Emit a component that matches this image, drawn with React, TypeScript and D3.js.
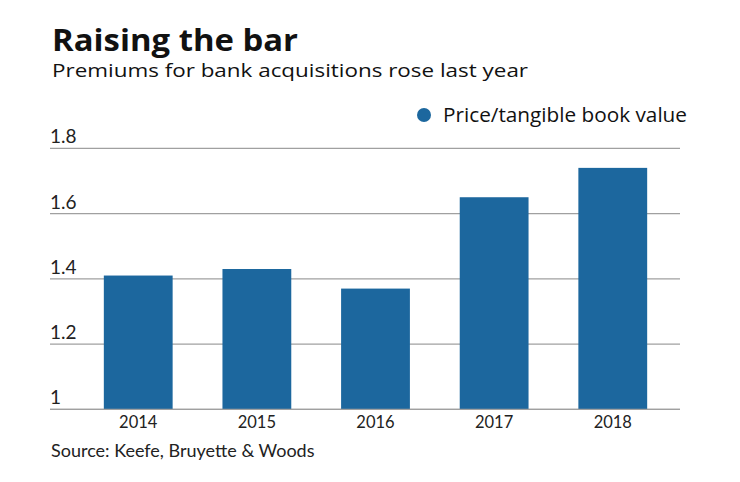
import React, { useEffect, useRef } from "react";
import * as d3 from "d3";

const years = ["2014", "2015", "2016", "2017", "2018"];
const priceToTangibleBook = [1.41, 1.43, 1.37, 1.65, 1.74];
const yTicks = [1, 1.2, 1.4, 1.6, 1.8];

const width = 740;
const height = 482;
const barColor = "#1c679e";
const gridColor = "#a0a0a0";
const headFont = "'Open Sans', sans-serif";
const font = "Lato, 'Open Sans', sans-serif";

const App = () => {
  const svgRef = useRef<SVGSVGElement>(null);

  useEffect(() => {
    const svg = d3.select(svgRef.current);
    svg.selectAll("*").remove();

    const x = d3.scaleBand().domain(years).range([54, 697]).padding(0.42);
    const y = d3.scaleLinear().domain([1, 1.8]).range([409.3, 148.3]);

    // Title block (the house face is wide, so stretch to its width)
    svg
      .append("text")
      .attr("x", 52)
      .attr("y", 51)
      .attr("font-family", headFont)
      .attr("font-weight", 700)
      .attr("font-size", 31)
      .attr("textLength", 246)
      .attr("lengthAdjust", "spacingAndGlyphs")
      .attr("fill", "#111")
      .text("Raising the bar");

    svg
      .append("text")
      .attr("x", 52)
      .attr("y", 76.5)
      .attr("font-family", headFont)
      .attr("font-size", 19)
      .attr("textLength", 476)
      .attr("lengthAdjust", "spacingAndGlyphs")
      .attr("fill", "#111")
      .text("Premiums for bank acquisitions rose last year");

    // Legend
    svg.append("circle").attr("cx", 424).attr("cy", 115).attr("r", 7).attr("fill", barColor);
    svg
      .append("text")
      .attr("x", 443)
      .attr("y", 122)
      .attr("font-family", headFont)
      .attr("font-size", 19.5)
      .attr("textLength", 244)
      .attr("lengthAdjust", "spacingAndGlyphs")
      .attr("fill", "#111")
      .text("Price/tangible book value");

    // Gridlines with labels sitting above them
    const grid = svg.append("g");
    grid
      .selectAll("line")
      .data(yTicks)
      .enter()
      .append("line")
      .attr("x1", 50)
      .attr("x2", 680)
      .attr("y1", (d) => y(d))
      .attr("y2", (d) => y(d))
      .attr("stroke", gridColor)
      .attr("stroke-width", 1.3);

    grid
      .selectAll("text")
      .data(yTicks)
      .enter()
      .append("text")
      .attr("x", 50)
      .attr("y", (d) => y(d) - 5)
      .attr("font-family", font)
      .attr("font-size", 19)
      .attr("fill", "#222")
      .text((d) => (d === 1 ? "1" : d3.format(".1f")(d)));

    // Bars
    svg
      .append("g")
      .selectAll("rect")
      .data(priceToTangibleBook)
      .enter()
      .append("rect")
      .attr("x", (d, i) => x(years[i])!)
      .attr("y", (d) => y(d))
      .attr("width", x.bandwidth())
      .attr("height", (d) => y(1) - y(d))
      .attr("fill", barColor);

    // Baseline drawn over the bars
    svg
      .append("line")
      .attr("x1", 50)
      .attr("x2", 680)
      .attr("y1", y(1))
      .attr("y2", y(1))
      .attr("stroke", gridColor)
      .attr("stroke-width", 1.3);

    // Year labels
    svg
      .append("g")
      .selectAll("text")
      .data(years)
      .enter()
      .append("text")
      .attr("x", (d) => x(d)! + x.bandwidth() / 2)
      .attr("y", 428)
      .attr("text-anchor", "middle")
      .attr("font-family", font)
      .attr("font-size", 16.5)
      .attr("fill", "#222")
      .text((d) => d);

    svg
      .append("text")
      .attr("x", 51)
      .attr("y", 456.5)
      .attr("font-family", font)
      .attr("font-size", 18)
      .attr("fill", "#222")
      .text("Source: Keefe, Bruyette & Woods");
  }, []);

  return (
    <svg
      ref={svgRef}
      width={width}
      height={height}
      style={{ position: "absolute", left: 0, top: 0, background: "#fff" }}
    ></svg>
  );
};

export default App;
